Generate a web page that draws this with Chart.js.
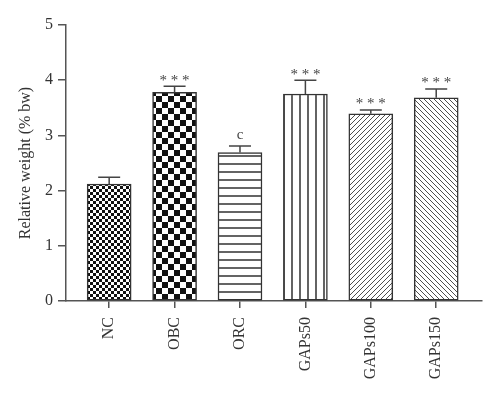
<!DOCTYPE html>
<html><head><meta charset="utf-8">
<script src="https://cdn.jsdelivr.net/npm/chart.js@4/dist/chart.umd.min.js"></script>
<style>html,body{margin:0;padding:0;background:#fff}#w{width:500px;height:398px}</style>
</head><body><div id="w"><canvas id="c" width="500" height="398"></canvas></div>
<script>
const categories = ["NC","OBC","ORC","GAPs50","GAPs100","GAPs150"];
const values = [2.12, 3.78, 2.69, 3.75, 3.39, 3.68];
const errorTops = [2.24, 3.89, 2.81, 4.0, 3.46, 3.84];
const marks = ["", "* * *", "c", "* * *", "* * *", "* * *"];
const yTicks = [0,1,2,3,4,5];

function tile(w,h,draw){const c=document.createElement('canvas');c.width=w;c.height=h;const g=c.getContext('2d');g.fillStyle='#fff';g.fillRect(0,0,w,h);g.fillStyle='#111';g.strokeStyle='#222';draw(g,w,h);return document.getElementById('c').getContext('2d').createPattern(c,'repeat');}
const pats = [
  tile(6,6,(g)=>{g.fillRect(0,0,3,3);g.fillRect(3,3,3,3);}),
  tile(12,12,(g)=>{g.fillRect(0,0,6,6);g.fillRect(6,6,6,6);}),
  tile(8,8,(g)=>{g.lineWidth=1.4;g.beginPath();g.moveTo(0,4);g.lineTo(8,4);g.stroke();}),
  tile(8,8,(g)=>{g.lineWidth=1.4;g.beginPath();g.moveTo(4,0);g.lineTo(4,8);g.stroke();}),
  tile(5,5,(g,s)=>{g.lineWidth=0.8;g.beginPath();g.moveTo(0,s);g.lineTo(s,0);g.moveTo(-1,1);g.lineTo(1,-1);g.moveTo(s-1,s+1);g.lineTo(s+1,s-1);g.stroke();}),
  tile(5,5,(g,s)=>{g.lineWidth=0.8;g.beginPath();g.moveTo(0,0);g.lineTo(s,s);g.moveTo(-1,s-1);g.lineTo(1,s+1);g.moveTo(s-1,-1);g.lineTo(s+1,1);g.stroke();})
];

const FONT = "'Liberation Serif','Times New Roman',serif";
const axisColor = '#555';
const errPlugin = {
  id:'err',
  afterDatasetsDraw(chart){
    const {ctx, scales:{x,y}} = chart;
    ctx.save();
    ctx.strokeStyle='#444'; ctx.lineWidth=1.5;
    ctx.fillStyle='#444'; ctx.font='15px '+FONT; ctx.textAlign='center'; ctx.textBaseline='bottom';
    values.forEach((v,i)=>{
      const px=x.getPixelForValue(i), y0=y.getPixelForValue(v), y1=y.getPixelForValue(errorTops[i]);
      ctx.beginPath(); ctx.moveTo(px,y0); ctx.lineTo(px,y1); ctx.moveTo(px-11,y1); ctx.lineTo(px+11,y1); ctx.stroke();
      if(marks[i]) ctx.fillText(marks[i], px, y1 - (marks[i]==='c'?3:-2));
    });
    ctx.restore();
  }
};

new Chart(document.getElementById('c'), {
  type:'bar',
  data:{datasets:[{
    data: values.map((v,i)=>({x:i,y:v})),
    backgroundColor: pats,
    borderColor:'#333', borderWidth:1.5, borderSkipped:false,
    barThickness:44
  }]},
  options:{
    responsive:false, animation:false,
    layout:{padding:{top:25,right:18,left:0,bottom:0}},
    plugins:{legend:{display:false},tooltip:{enabled:false}},
    scales:{
      x:{type:'linear', min:-0.66, max:5.7, offset:false,
        afterBuildTicks(s){s.ticks = categories.map((c,i)=>({value:i}));},
        afterFit(s){s.height=97;},
        grid:{offset:false, drawOnChartArea:false, color:axisColor, tickLength:7, lineWidth:1.5},
        border:{color:axisColor, width:1.5},
        ticks:{autoSkip:false, maxRotation:90, minRotation:90, padding:9, color:'#333',
          font:{family:FONT, size:16}, callback:(v)=>categories[v]}
      },
      y:{min:0,max:5,
        afterBuildTicks(s){s.ticks = yTicks.map(v=>({value:v}));},
        afterFit(s){s.width=66;},
        grid:{drawOnChartArea:false, color:axisColor, tickLength:8, lineWidth:1.5},
        border:{color:axisColor, width:1.5},
        ticks:{padding:5, color:'#333', font:{family:FONT, size:16}},
        title:{display:true, text:'Relative weight (% bw)', color:'#333', font:{family:FONT,size:16}, padding:{top:16,bottom:0}}
      }
    }
  },
  plugins:[errPlugin]
});
</script></body></html>
